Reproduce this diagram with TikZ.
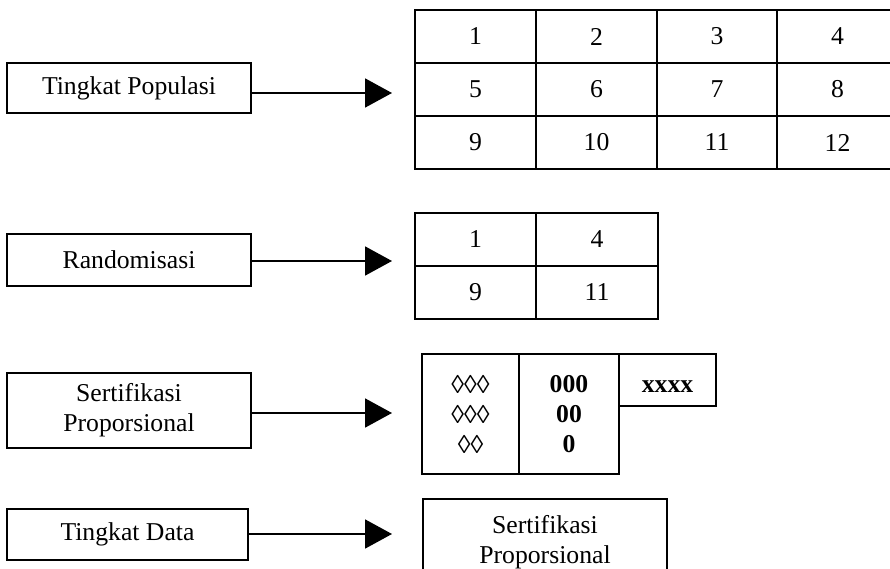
\documentclass[tikz,border=0pt]{standalone}
\usepackage{fontspec}
\setmainfont{Liberation Serif}
\usetikzlibrary{arrows.meta}
\begin{document}
\begin{tikzpicture}[x=1pt,y=-1pt,
  every node/.style={font=\fontsize{25.7}{30}\selectfont},
  labelbox/.style={draw, line width=1.8pt, inner sep=0pt, align=center, minimum width=244pt},
  cell/.style={draw, line width=1.8pt, inner sep=0pt, align=center, minimum width=121pt, minimum height=53pt},
  flow/.style={line width=1.8pt, -{Triangle[length=27pt,width=29pt]}}
]
\useasboundingbox (0,0) rectangle (890,569);
\clip (0,0) rectangle (890,569);

% left-hand stage boxes
\node[labelbox, minimum height=50pt] (tp) at (129,88) {Tingkat Populasi};
\node[labelbox, minimum height=52pt] (rd) at (129,260) {Randomisasi};
\node[labelbox, minimum height=75pt] (sp) at (129,410.5) {Sertifikasi\\Proporsional};
\node[labelbox, minimum height=51pt, minimum width=241pt] (td) at (127.5,534.5) {Tingkat Data};

% arrow tips
\coordinate (a1) at (392,93);
\coordinate (a2) at (392,261);
\coordinate (a3) at (392,413);
\coordinate (a4) at (392,534);

\draw[flow] (tp.east |- a1) -- (a1);
\draw[flow] (rd.east |- a2) -- (a2);
\draw[flow] (sp.east |- a3) -- (a3);
\draw[flow] (td.east |- a4) -- (a4);

% population grid
\foreach \r/\y in {0/36.5,1/89.5,2/142.5}
  \foreach \c/\x in {0/475.5,1/596.5,2/717,3/837.5} {
    \pgfmathtruncatemacro\n{\r*4+\c+1}
    \node[cell] (p\n) at (\x,\y) {\n};
  }

% randomised sample
\node[cell] (r1) at (475.5,239.5) {1};
\node[cell, minimum width=122pt] (r4) at (597,239.5) {4};
\node[cell] (r9) at (475.5,292.5) {9};
\node[cell, minimum width=122pt] (r11) at (597,292.5) {11};

% proportional strata
\node[cell, minimum width=97pt, minimum height=120pt] (s1) at (470.5,414) {◊◊◊\\◊◊◊\\◊◊};
\node[cell, minimum width=100pt, minimum height=120pt, font=\fontsize{25.7}{30}\selectfont\bfseries] (s2) at (569,414) {000\\00\\0};
\node[cell, minimum width=97pt, minimum height=52pt, text height=24pt, text depth=0pt, font=\fontsize{25.7}{30}\selectfont\bfseries] (s3) at (667.5,380) {xxxx};

% data level result (box runs past the lower edge)
\node[labelbox, anchor=north, inner ysep=16.2pt] (res) at (545,498) {Sertifikasi\\Proporsional};
\end{tikzpicture}
\end{document}
